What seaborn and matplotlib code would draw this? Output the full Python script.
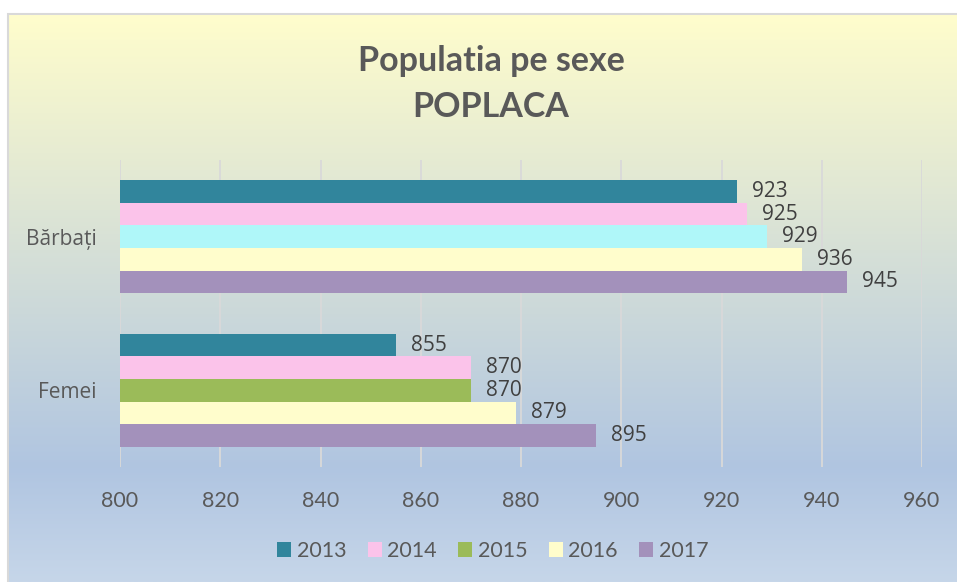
import numpy as np
import pandas as pd
import seaborn as sns
import matplotlib.pyplot as plt
from matplotlib.colors import LinearSegmentedColormap
from matplotlib.patches import Patch, Rectangle

categories = ["Bărbați", "Femei"]
years = ["2013", "2014", "2015", "2016", "2017"]
barbati = [923, 925, 929, 936, 945]
femei = [855, 870, 870, 879, 895]
year_colors = ["#31859C", "#FBC3EA", "#9BBB59", "#FFFDCC", "#A391BB"]
# in the original the 2015 bar for Bărbați is painted cyan, not green
odd_color = "#AFF7F9"

df = pd.DataFrame({
    "sex": [categories[0]] * len(years) + [categories[1]] * len(years),
    "year": years * 2,
    "value": barbati + femei,
})

sns.set_theme(style="white")
plt.rcParams["font.family"] = ["Open Sans", "DejaVu Sans"]

W, H = 957, 582
fig = plt.figure(figsize=(W / 100, H / 100), dpi=100)

# gradient background with thin grey frame
bg = fig.add_axes([9 / W, 0, 1 - 9 / W, 1 - 15 / H])
cmap = LinearSegmentedColormap.from_list(
    "bg", [(0, "#FFFDCC"), (0.8, "#B0C5E1"), (1, "#C6D6E9")])
bg.imshow(np.linspace(0, 1, 256).reshape(-1, 1), aspect="auto", cmap=cmap,
          extent=[0, 1, 0, 1], origin="upper")
bg.set_axis_off()
fig.patches.append(Rectangle((8 / W, -0.05), 1.1, 1.05 - 14 / H, transform=fig.transFigure,
                             fill=False, edgecolor="#D9D9D9", linewidth=1.5))

ax = fig.add_axes([120 / W, 1 - 467 / H, 802 / W, 307 / H])
ax.patch.set_alpha(0)
sns.barplot(data=df, x="value", y="sex", hue="year", palette=year_colors,
            orient="h", width=0.735, saturation=1, legend=False, ax=ax)
ax.containers[2][0].set_facecolor(odd_color)
for bar in ax.patches:
    bar.set_edgecolor("none")
for cont in ax.containers:
    ax.bar_label(cont, padding=11, fontsize=15, color="#404040")

ax.set_xlim(800, 960)
ax.set_xticks(range(800, 961, 20))
ax.set_ylim(1.5, -0.5)
ax.set_xlabel("")
ax.set_ylabel("")
ax.grid(axis="x", color="#D9D9D9", linewidth=1.3)
ax.set_axisbelow(True)
for s in ax.spines.values():
    s.set_visible(False)
ax.tick_params(axis="x", length=0, pad=17, labelsize=15.5, labelcolor="#595959")
ax.tick_params(axis="y", length=0, pad=17, labelsize=15, labelcolor="#595959")
for lbl in ax.get_xticklabels():
    lbl.set_family("Lato")

fig.text(0.513, 1 - 71 / H, "Populatia pe sexe", ha="center", va="baseline",
         fontsize=24.5, fontweight="bold", color="#595959", family="Lato")
fig.text(0.513, 1 - 117 / H, "POPLACA", ha="center", va="baseline",
         fontsize=24.5, fontweight="bold", color="#595959", family="Lato")

handles = [Patch(facecolor=c, edgecolor="none") for c in year_colors]
leg = fig.legend(handles, years, loc="center", bbox_to_anchor=(0.515, 1 - 551 / H),
                 ncol=5, frameon=False, handlelength=0.65, handleheight=0.65,
                 handletextpad=0.25, columnspacing=1.0, prop={"family": "Lato", "size": 15.5})
for t in leg.get_texts():
    t.set_color("#595959")

fig.savefig("out.png", dpi=100)
